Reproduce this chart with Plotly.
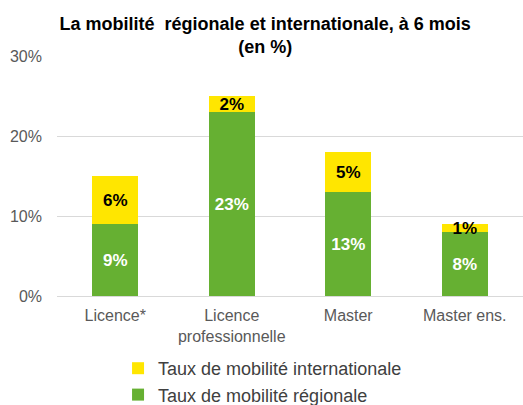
import plotly.graph_objects as go

categories = ["Licence*", "Licence<br>professionnelle", "Master", "Master ens."]
regional = [9, 23, 13, 8]
international = [6, 2, 5, 1]
tick_vals = [0, 10, 20, 30]
tick_text = ["0%", "10%", "20%", "30%"]

FONT = "Liberation Sans, Arial, sans-serif"

fig = go.Figure()
fig.add_trace(go.Bar(
    x=categories, y=regional, name="Taux de mobilité régionale",
    legendgroup="reg",
    marker=dict(color="#66B032", line=dict(width=0)),
    text=[f"{v}%" for v in regional], textposition="inside", insidetextanchor="middle",
    textfont=dict(color="white", size=17, family=FONT, weight="bold"),
    hoverinfo="skip",
))
fig.add_trace(go.Bar(
    x=categories, y=international, name="Taux de mobilité internationale",
    legendgroup="int",
    marker=dict(color="#FFE600", line=dict(width=0)),
    text=[f"{v}%" for v in international], textposition="inside", insidetextanchor="middle",
    textfont=dict(color="black", size=17, family=FONT, weight="bold"),
    hoverinfo="skip",
))

fig.update_layout(
    barmode="stack",
    bargap=0.605,
    width=523, height=405,
    margin=dict(l=57, r=0, t=56, b=109, autoexpand=False),
    paper_bgcolor="white", plot_bgcolor="white",
    font=dict(family=FONT, size=16, color="#595959"),
    title=dict(
        text="<b>La mobilité  régionale et internationale, à 6 mois<br>(en %)</b>",
        x=0.507, xanchor="center", y=0.926, yanchor="top",
        font=dict(size=18, color="black", family=FONT),
    ),
    uniformtext=dict(mode="show", minsize=17),
    showlegend=True,
    legend=dict(
        orientation="v", traceorder="reversed",
        x=0.131, xanchor="left", y=-0.225, yanchor="top",
        font=dict(size=18, color="#404040", family=FONT),
        itemwidth=30, tracegroupgap=10,
    ),
    yaxis=dict(
        range=[0, 30], tickvals=tick_vals, ticktext=tick_text,
        showgrid=True, gridcolor="#D9D9D9", gridwidth=1,
        zeroline=True, zerolinecolor="#D9D9D9", zerolinewidth=1,
        showline=False, ticks="", ticklen=0, automargin=False,
        ticklabelstandoff=14,
        tickfont=dict(size=16, color="#595959"),
    ),
    xaxis=dict(
        showline=False, ticks="", automargin=False,
        ticklabelstandoff=8,
        tickfont=dict(size=16, color="#595959"),
    ),
)

fig.write_html(
    "out.html",
    config={"displayModeBar": False},
    post_script="document.body.style.margin='0';",
)
